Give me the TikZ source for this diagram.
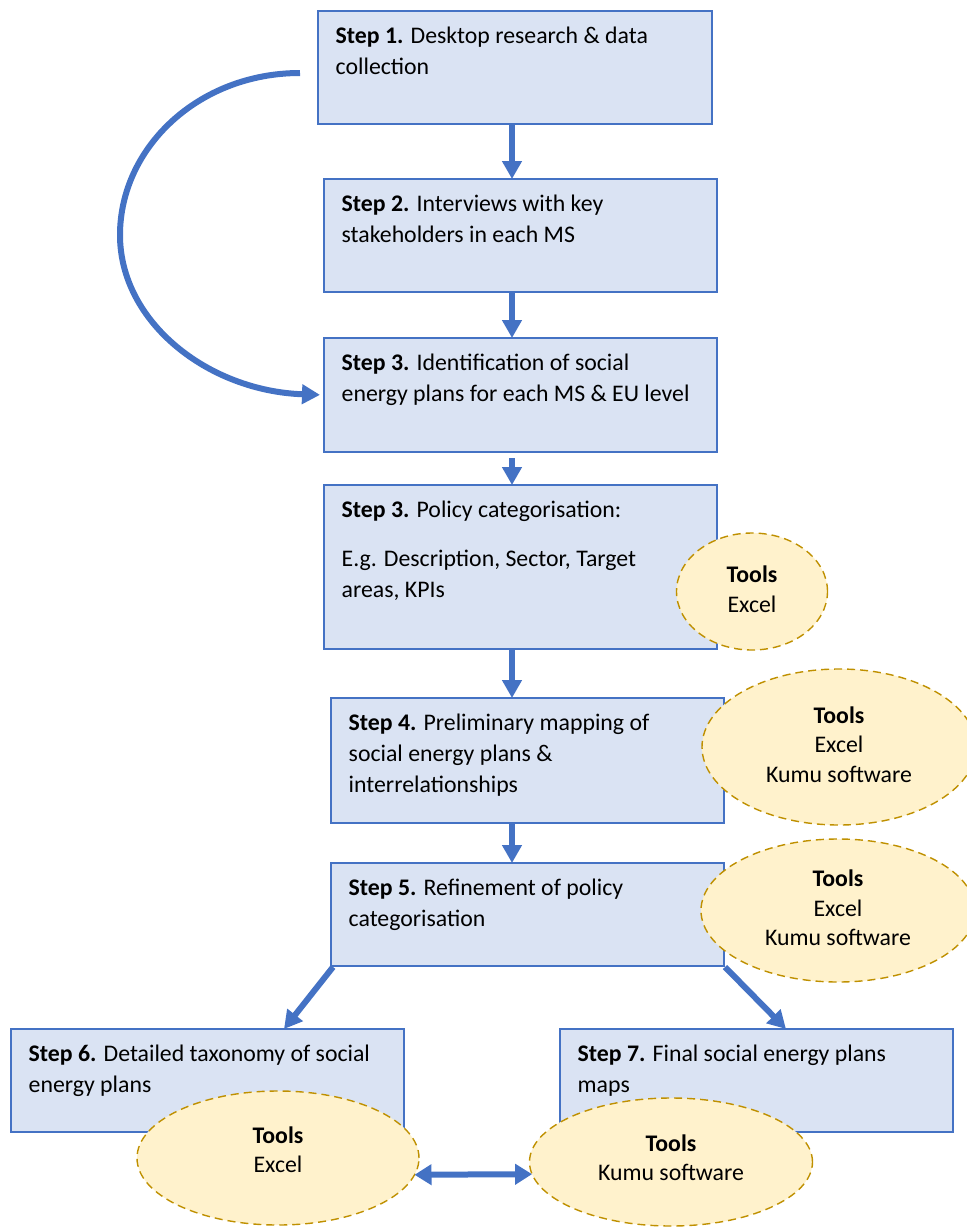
\documentclass[tikz,border=0pt]{standalone}
\usepackage{fontspec}
\setmainfont{Carlito}
\usetikzlibrary{arrows.meta,shapes.geometric,calc}

\definecolor{flowblue}{HTML}{4472C4}
\definecolor{boxfill}{HTML}{DAE3F3}
\definecolor{toolfill}{HTML}{FFF2CC}
\definecolor{tooledge}{HTML}{BF9000}

\tikzset{
  stepbox/.style={draw=flowblue, line width=1.6pt, fill=boxfill, rectangle,
    inner sep=0pt, outer sep=0pt},
  steptext/.style={anchor=north west, inner sep=0pt, align=left,
    font=\fontsize{23.8pt}{31pt}\selectfont, xshift=17.5pt, yshift=-10.3pt},
  toolbox/.style={draw=tooledge, line width=1.4pt, dash pattern=on 8pt off 5pt,
    fill=toolfill, ellipse, inner sep=0pt, outer sep=0pt},
  tooltext/.style={inner sep=0pt, align=center,
    font=\fontsize{23.8pt}{29.5pt}\selectfont},
  flow/.style={draw=flowblue, line width=6pt,
    -{Triangle[width=19pt,length=18pt]}},
  both/.style={draw=flowblue, line width=6pt,
    {Triangle[width=20pt,length=17pt]}-{Triangle[width=20pt,length=17pt]}},
}

\begin{document}
\begin{tikzpicture}[x=1pt,y=-1pt]
\useasboundingbox (0,0) rectangle (967,1227);

% process steps
\node[stepbox, minimum width=394pt, minimum height=113pt] (s1) at (515,67.5) {};
\node[stepbox, minimum width=393pt, minimum height=113pt] (s2) at (520.5,235.5) {};
\node[stepbox, minimum width=393pt, minimum height=114pt] (s3) at (520.5,395) {};
\node[stepbox, minimum width=393pt, minimum height=164pt] (s3b) at (520.5,567) {};
\node[stepbox, minimum width=393pt, minimum height=125pt] (s4) at (527.5,760.5) {};
\node[stepbox, minimum width=393pt, minimum height=103pt] (s5) at (527.5,914.5) {};
\node[stepbox, minimum width=393pt, minimum height=103pt] (s6) at (207.5,1080.5) {};
\node[stepbox, minimum width=393pt, minimum height=103pt] (s7) at (756.5,1080.5) {};

\node[steptext] (t1) at (s1.north west) {\strut\textbf{Step 1.} Desktop research \& data\\\strut collection};
\node[steptext] (t2) at (s2.north west) {\strut\textbf{Step 2.} Interviews with key\\\strut stakeholders in each MS};
\node[steptext] (t3) at (s3.north west) {\strut\textbf{Step 3.} Identification of social\\\strut energy plans for each MS \& EU level};
\node[steptext] (t3b) at (s3b.north west) {\strut\textbf{Step 3.} Policy categorisation:\\[18pt]\strut E.g. Description, Sector, Target\\\strut areas, KPIs};
\node[steptext] (t4) at (s4.north west) {\strut\textbf{Step 4.} Preliminary mapping of\\\strut social energy plans \&\\\strut interrelationships};
\node[steptext] (t5) at (s5.north west) {\strut\textbf{Step 5.} Refinement of policy\\\strut categorisation};
\node[steptext] (t6) at (s6.north west) {\strut\textbf{Step 6.} Detailed taxonomy of social\\\strut energy plans};
\node[steptext] (t7) at (s7.north west) {\strut\textbf{Step 7.} Final social energy plans\\\strut maps};

% tool bubbles
\node[toolbox, minimum width=151pt, minimum height=117pt] (eA) at (752,591.5) {};
\node[toolbox, minimum width=274pt, minimum height=156pt] (eB) at (839,747) {};
\node[toolbox, minimum width=274pt, minimum height=143pt] (eC) at (838,910.5) {};
\node[toolbox, minimum width=282pt, minimum height=134pt] (e6) at (278,1158) {};
\node[toolbox, minimum width=283pt, minimum height=128pt] (e7) at (671,1162) {};

\node[tooltext] (uA) at (eA.center) {\strut\textbf{Tools}\\\strut Excel};
\node[tooltext] (uB) at (eB.center) {\strut\textbf{Tools}\\\strut Excel\\\strut Kumu software};
\node[tooltext] (uC) at (eC.center) {\strut\textbf{Tools}\\\strut Excel\\\strut Kumu software};
\node[tooltext, yshift=6pt] (u6) at (e6.center) {\strut\textbf{Tools}\\\strut Excel};
\node[tooltext, yshift=2pt] (u7) at (e7.center) {\strut\textbf{Tools}\\\strut Kumu software};

% connectors
\coordinate (ax) at (512,0);
\coordinate (c0) at (300,73);
\coordinate (cl) at (120,235);

\draw[flow] (s1.south -| ax) -- (s2.north -| ax);
\draw[flow] (s2.south -| ax) -- (s3.north -| ax);
\draw[flow, shorten <=6pt] (s3.south -| ax) -- (s3b.north -| ax);
\draw[flow] (s3b.south -| ax) -- (s4.north -| ax);
\draw[flow] (s4.south -| ax) -- (s5.north -| ax);
\draw[flow, shorten >=4pt] (c0) .. controls (198,73) and (120,148) .. (cl)
  .. controls (120,322) and (208,391) .. (s3.west);
\draw[flow] ($(s5.south west)+(2,1)$) -- ($(s6.north west)+(273,0)$);
\draw[flow] ($(s5.south east)+(1,1)$) -- ($(s7.north west)+(226,0)$);
\draw[both] (e6.-7) -- (e7.185);
\end{tikzpicture}
\end{document}
